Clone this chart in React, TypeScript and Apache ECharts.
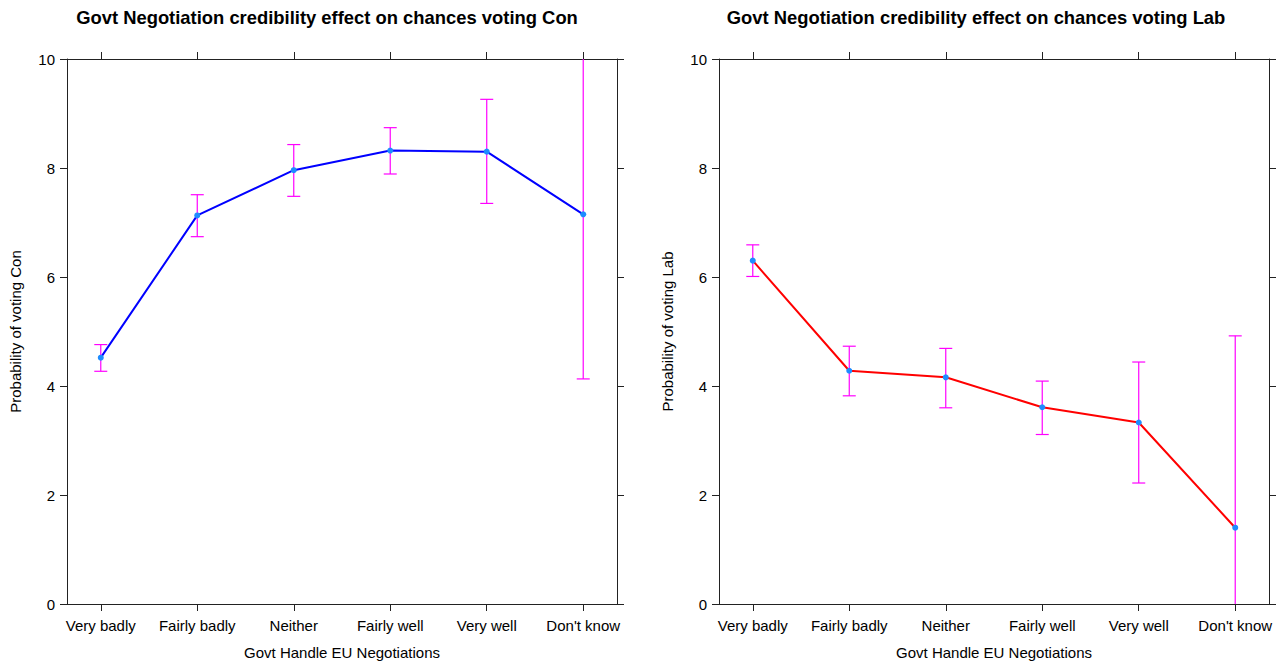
import React, { useEffect, useRef } from "react";
import * as echarts from "echarts";

// Response categories for "Govt Handle EU Negotiations"
const categories = ["Very badly", "Fairly badly", "Neither", "Fairly well", "Very well", "Don't know"];

// Conservative vote probability: estimate with lower / upper bounds
const conMean = [4.52, 7.13, 7.96, 8.32, 8.3, 7.15];
const conLow = [4.27, 6.74, 7.48, 7.89, 7.35, 4.13];
const conHigh = [4.76, 7.51, 8.43, 8.74, 9.26, 10.17];

// Labour vote probability: estimate with lower / upper bounds
const labMean = [6.3, 4.28, 4.16, 3.61, 3.33, 1.4];
const labLow = [6.01, 3.82, 3.6, 3.11, 2.22, -2.13];
const labHigh = [6.59, 4.73, 4.69, 4.09, 4.44, 4.92];

const yTicks = [0, 2, 4, 6, 8, 10];

const titleCon = "Govt Negotiation credibility effect on chances voting Con";
const titleLab = "Govt Negotiation credibility effect on chances voting Lab";
const xName = "Govt Handle EU Negotiations";
const yNameCon = "Probability of voting Con";
const yNameLab = "Probability of voting Lab";

const FONT = "'Liberation Sans', Arial, sans-serif";
const FRAME = "#222";
const LABEL_SIZE = 15;
const catIdx = categories.map((_, i) => i);

const frameLine = { show: true, onZero: false, lineStyle: { color: FRAME, width: 1 } };

function bottomAxis(grid: number, name: string) {
  return {
    type: "value",
    gridIndex: grid,
    position: "bottom",
    min: -0.35,
    max: 5.35,
    name,
    nameLocation: "middle",
    nameGap: 41,
    nameTextStyle: { color: "#000", fontSize: LABEL_SIZE, fontFamily: FONT },
    axisLine: frameLine,
    axisTick: { show: true, length: 7, customValues: catIdx, lineStyle: { color: FRAME } },
    axisLabel: {
      show: true,
      customValues: catIdx,
      margin: 14,
      color: "#000",
      fontSize: LABEL_SIZE,
      fontFamily: FONT,
      formatter: (v: number) => categories[Math.round(v)] ?? "",
    },
    splitLine: { show: false },
  };
}

function topAxis(grid: number) {
  return {
    type: "value",
    gridIndex: grid,
    position: "top",
    min: -0.35,
    max: 5.35,
    axisLine: frameLine,
    axisTick: { show: true, length: 7, customValues: catIdx, lineStyle: { color: FRAME } },
    axisLabel: { show: false },
    splitLine: { show: false },
  };
}

function leftAxis(grid: number, name: string) {
  return {
    type: "value",
    gridIndex: grid,
    position: "left",
    min: 0,
    max: 10,
    interval: 2,
    name,
    nameLocation: "middle",
    nameGap: 44,
    nameTextStyle: { color: "#000", fontSize: LABEL_SIZE, fontFamily: FONT },
    axisLine: frameLine,
    axisTick: { show: true, length: 7, customValues: yTicks, lineStyle: { color: FRAME } },
    axisLabel: { show: true, customValues: yTicks, margin: 12, color: "#000", fontSize: LABEL_SIZE, fontFamily: FONT },
    splitLine: { show: false },
  };
}

function rightAxis(grid: number) {
  return {
    type: "value",
    gridIndex: grid,
    position: "right",
    min: 0,
    max: 10,
    interval: 2,
    axisLine: frameLine,
    axisTick: { show: true, length: 7, customValues: yTicks, lineStyle: { color: FRAME } },
    axisLabel: { show: false },
    splitLine: { show: false },
  };
}

// Vertical interval with caps, clipped to the plotting area
function errorBarItem(params: any, api: any) {
  const i = api.value(0);
  const lo = api.value(1);
  const hi = api.value(2);
  const cs = params.coordSys;
  const top = api.coord([i, hi]);
  const bot = api.coord([i, lo]);
  const x = top[0];
  const yMin = cs.y;
  const yMax = cs.y + cs.height;
  const y1 = Math.max(top[1], yMin);
  const y2 = Math.min(bot[1], yMax);
  const style = { stroke: "#FF00FF", lineWidth: 1.2 };
  const cap = 6.5;
  const children: any[] = [{ type: "line", shape: { x1: x, y1, x2: x, y2 }, style }];
  if (top[1] >= yMin) children.push({ type: "line", shape: { x1: x - cap, y1: top[1], x2: x + cap, y2: top[1] }, style });
  if (bot[1] <= yMax) children.push({ type: "line", shape: { x1: x - cap, y1: bot[1], x2: x + cap, y2: bot[1] }, style });
  return { type: "group", children };
}

function errorSeries(axis: number, low: number[], high: number[]) {
  return {
    type: "custom",
    xAxisIndex: axis,
    yAxisIndex: axis,
    renderItem: errorBarItem,
    encode: { x: 0, y: [1, 2] },
    data: low.map((l, i) => [i, l, high[i]]),
    z: 2,
  };
}

function meanSeries(axis: number, values: number[], color: string) {
  return {
    type: "line",
    xAxisIndex: axis,
    yAxisIndex: axis,
    data: values.map((v, i) => [i, v]),
    symbol: "circle",
    symbolSize: 6,
    showSymbol: true,
    itemStyle: { color: "#1E8CFF" },
    lineStyle: { color, width: 2 },
    z: 3,
  };
}

export default function App() {
  const ref = useRef<HTMLDivElement>(null);

  useEffect(() => {
    if (!ref.current) return;
    const chart = echarts.init(ref.current, undefined, { renderer: "svg" });
    chart.setOption({
      animation: false,
      backgroundColor: "#fff",
      textStyle: { fontFamily: FONT },
      grid: [
        { left: 67, top: 59, width: 550, height: 545 },
        { left: 719, top: 59, width: 550, height: 545 },
      ],
      xAxis: [bottomAxis(0, xName), bottomAxis(1, xName), topAxis(0), topAxis(1)],
      yAxis: [leftAxis(0, yNameCon), leftAxis(1, yNameLab), rightAxis(0), rightAxis(1)],
      series: [
        errorSeries(0, conLow, conHigh),
        meanSeries(0, conMean, "#0000FF"),
        errorSeries(1, labLow, labHigh),
        meanSeries(1, labMean, "#FF0000"),
        // empty series binding the top / right frame axes
        { type: "line", xAxisIndex: 2, yAxisIndex: 2, data: [], silent: true },
        { type: "line", xAxisIndex: 3, yAxisIndex: 3, data: [], silent: true },
      ],
      graphic: [
        {
          type: "text",
          x: 327,
          y: 17,
          style: { text: titleCon, font: `bold 18.4px ${FONT}`, fill: "#000", textAlign: "center", textVerticalAlign: "middle" },
        },
        {
          type: "text",
          x: 976,
          y: 17,
          style: { text: titleLab, font: `bold 18.4px ${FONT}`, fill: "#000", textAlign: "center", textVerticalAlign: "middle" },
        },
      ],
    });
    return () => chart.dispose();
  }, []);

  return (
    <div
      ref={ref}
      style={{ position: "absolute", left: 0, top: 0, width: 1279, height: 665, background: "#fff" }}
    />
  );
}
